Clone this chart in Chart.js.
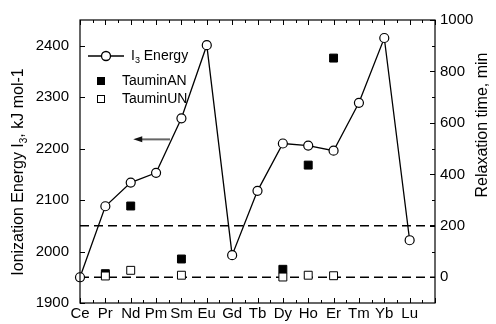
<!DOCTYPE html>
<html>
<head>
<meta charset="utf-8">
<script src="https://cdn.jsdelivr.net/npm/chart.js@4/dist/chart.umd.min.js"></script>
<style>
  html, body { margin: 0; padding: 0; background: #fff; }
  canvas { display: block; }
</style>
</head>
<body>
<canvas id="chart" width="496" height="324"></canvas>
<script>
// lanthanides along the bottom axis
const elements = ["Ce", "Pr", "Nd", "Pm", "Sm", "Eu", "Gd", "Tb", "Dy", "Ho", "Er", "Tm", "Yb", "Lu"];
// third ionization energy, kJ/mol (left axis)
const i3Energy = [1950, 2088, 2134, 2153, 2259, 2401, 1993, 2118, 2210, 2206, 2196, 2289, 2415, 2022];
// relaxation times, min (right axis)
const tauElements = ["Pr", "Nd", "Sm", "Dy", "Ho", "Er"];
const tauminAN = [14, 277, 71, 31, 436, 852];
const tauminUN = [5, 27, 8, 1, 8, 6];
// dashed guide levels on the right axis
const guideLevels = [0, 200];
// arrow pointing at the left axis (data coords)
const arrowFrom = { x: 3.55, y: 2218 };
const arrowTo = { x: 2.1, y: 2218 };

const FONT = "'Liberation Sans', Arial, sans-serif";

function byElement(names, values) {
  return names.map((n, i) => ({ x: elements.indexOf(n), y: values[i] }));
}

const guideSets = guideLevels.map(v => ({
  type: "line",
  data: [{ x: 0, y: v }, { x: elements.length, y: v }],
  yAxisID: "y1",
  borderColor: "#000",
  borderWidth: 1.5,
  borderDash: [9, 5],
  pointRadius: 0,
  order: 5,
}));

const frame = {
  id: "frame",
  afterDraw(chart) {
    const { ctx, chartArea: a, scales } = chart;
    const x = scales.x, y = scales.y, y1 = scales.y1;
    ctx.save();
    ctx.strokeStyle = "#000";
    ctx.lineWidth = 1.2;
    ctx.strokeRect(a.left, a.top, a.right - a.left, a.bottom - a.top);

    ctx.lineWidth = 1;
    ctx.beginPath();
    for (let v = 0; v <= elements.length; v += 0.5) {
      const px = Math.round(x.getPixelForValue(v)) + 0.5;
      const len = Number.isInteger(v) ? 5 : 3;
      ctx.moveTo(px, a.bottom); ctx.lineTo(px, a.bottom - len);
      ctx.moveTo(px, a.top); ctx.lineTo(px, a.top + len);
    }
    for (let v = 1900; v <= 2400; v += 100) {
      const py = Math.round(y.getPixelForValue(v)) + 0.5;
      ctx.moveTo(a.left, py); ctx.lineTo(a.left + 5, py);
    }
    for (let v = 0; v <= 1000; v += 100) {
      const py = Math.round(y1.getPixelForValue(v)) + 0.5;
      const len = v % 200 === 0 ? 5 : 3;
      ctx.moveTo(a.right, py); ctx.lineTo(a.right - len, py);
    }
    ctx.stroke();

    // arrow toward the left axis
    const ax0 = x.getPixelForValue(arrowFrom.x), ay0 = y.getPixelForValue(arrowFrom.y);
    const ax1 = x.getPixelForValue(arrowTo.x), ay1 = y.getPixelForValue(arrowTo.y);
    ctx.strokeStyle = "#666";
    ctx.lineWidth = 2;
    ctx.beginPath();
    ctx.moveTo(ax0, ay0); ctx.lineTo(ax1 + 6, ay1);
    ctx.stroke();
    ctx.fillStyle = "#111";
    ctx.beginPath();
    ctx.moveTo(ax1, ay1);
    ctx.lineTo(ax1 + 9, ay1 - 3);
    ctx.lineTo(ax1 + 9, ay1 + 3);
    ctx.closePath();
    ctx.fill();

    // axis titles
    ctx.fillStyle = "#000";
    ctx.textBaseline = "middle";
    ctx.save();
    ctx.translate(19, 172);
    ctx.rotate(-Math.PI / 2);
    drawSub(ctx, ["Ionization Energy I", "3", ", kJ mol-1"], 16, true);
    ctx.restore();
    ctx.save();
    ctx.translate(483, 125);
    ctx.rotate(-Math.PI / 2);
    ctx.font = "16px " + FONT;
    ctx.textAlign = "center";
    ctx.fillText("Relaxation time, min", 0, 0);
    ctx.restore();

    // legend
    const lx = a.left, ly = a.top;
    ctx.strokeStyle = "#000";
    ctx.lineWidth = 1.3;
    ctx.beginPath();
    ctx.moveTo(lx + 8, ly + 36); ctx.lineTo(lx + 44, ly + 36);
    ctx.stroke();
    ctx.beginPath();
    ctx.arc(lx + 26, ly + 36, 4.5, 0, Math.PI * 2);
    ctx.fillStyle = "#fff"; ctx.fill(); ctx.stroke();
    ctx.fillStyle = "#000";
    ctx.save();
    ctx.translate(lx + 51, ly + 36);
    drawSub(ctx, ["I", "3", " Energy"], 14, false);
    ctx.restore();
    ctx.fillRect(lx + 17, ly + 57, 8, 8);
    ctx.lineWidth = 1;
    ctx.strokeRect(lx + 17.5, ly + 75.5, 7, 7);
    ctx.font = "14px " + FONT;
    ctx.textAlign = "left";
    ctx.fillText("TauminAN", lx + 42, ly + 61);
    ctx.fillText("TauminUN", lx + 42, ly + 79);
    ctx.restore();
  }
};

// text with a subscript in the middle, drawn from the current origin
function drawSub(ctx, parts, size, centered) {
  const big = size + "px " + FONT, small = Math.round(size * 0.65) + "px " + FONT;
  ctx.font = big; const w0 = ctx.measureText(parts[0]).width;
  const w2 = ctx.measureText(parts[2]).width;
  ctx.font = small; const w1 = ctx.measureText(parts[1]).width;
  let x0 = centered ? -(w0 + w1 + w2) / 2 : 0;
  ctx.textAlign = "left";
  ctx.font = big; ctx.fillText(parts[0], x0, 0);
  ctx.font = small; ctx.fillText(parts[1], x0 + w0, size * 0.35);
  ctx.font = big; ctx.fillText(parts[2], x0 + w0 + w1, 0);
}

const noGrid = { display: false, drawTicks: false, tickLength: 0 };

new Chart(document.getElementById("chart"), {
  type: "line",
  data: {
    datasets: [
      {
        label: "I3 Energy",
        data: i3Energy.map((v, i) => ({ x: i, y: v })),
        yAxisID: "y",
        borderColor: "#000",
        borderWidth: 1.3,
        pointRadius: 4.5,
        pointBorderWidth: 1.2,
        pointBackgroundColor: "#fff",
        pointBorderColor: "#000",
        clip: false,
        order: 0,
      },
      {
        label: "TauminUN",
        data: byElement(tauElements, tauminUN),
        yAxisID: "y1",
        showLine: false,
        pointStyle: "rect",
        pointRadius: 5.6,
        pointBorderWidth: 1,
        pointBackgroundColor: "#fff",
        pointBorderColor: "#000",
        order: 1,
      },
      {
        label: "TauminAN",
        data: byElement(tauElements, tauminAN),
        yAxisID: "y1",
        showLine: false,
        pointStyle: "rect",
        pointRadius: 5.6,
        pointBorderWidth: 1,
        pointBackgroundColor: "#000",
        pointBorderColor: "#000",
        order: 2,
      },
      ...guideSets,
    ],
  },
  options: {
    responsive: false,
    animation: false,
    layout: { padding: 0 },
    plugins: { legend: { display: false }, tooltip: { enabled: false } },
    scales: {
      x: {
        type: "linear", position: "bottom", min: 0, max: elements.length,
        afterFit: s => { s.height = 21; },
        grid: noGrid, border: { display: false },
        ticks: {
          stepSize: 1, autoSkip: false, maxRotation: 0, padding: 2,
          color: "#000", font: { family: FONT, size: 15 },
          callback: v => elements[v] ?? "",
        },
      },
      x2: {
        type: "linear", position: "top", min: 0, max: elements.length,
        afterFit: s => { s.height = 15; },
        grid: noGrid, border: { display: false },
        ticks: { display: false },
      },
      y: {
        type: "linear", position: "left", min: 1900, max: 2450,
        afterFit: s => { s.width = 80; },
        grid: noGrid, border: { display: false },
        ticks: {
          stepSize: 100, includeBounds: false, padding: 11,
          color: "#000", font: { family: FONT, size: 15 },
          callback: v => String(v),
        },
      },
      y1: {
        type: "linear", position: "right", min: -100, max: 1000,
        afterFit: s => { s.width = 61; },
        grid: noGrid, border: { display: false },
        ticks: {
          stepSize: 200, includeBounds: false, padding: 5,
          color: "#000", font: { family: FONT, size: 15 },
          callback: v => (v >= 0 && v % 200 === 0 ? String(v) : ""),
        },
      },
    },
  },
  plugins: [frame],
});
</script>
</body>
</html>
